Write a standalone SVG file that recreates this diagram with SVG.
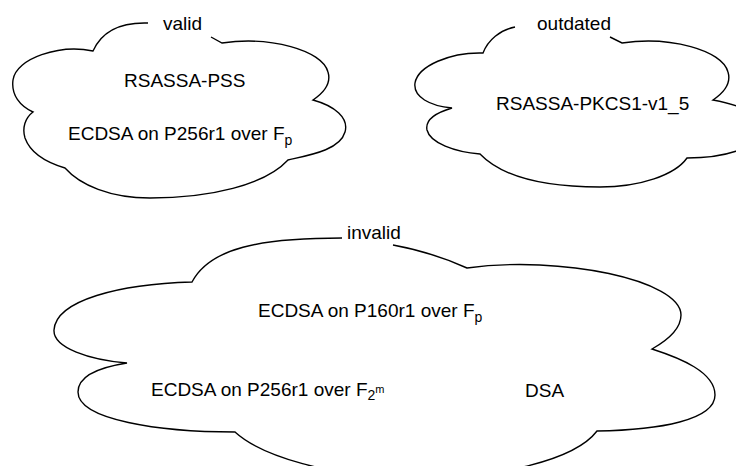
<svg xmlns="http://www.w3.org/2000/svg" width="736" height="466" viewBox="0 0 736 466">
  <style>
    .cloud { fill: none; stroke: #000; stroke-width: 1.4; stroke-linejoin: miter; }
    .lbl { font-family: "Liberation Sans", Arial, Helvetica, sans-serif; font-size: 19px; fill: #000; }
    .sub { font-size: 14px; }
    .sup { font-size: 11px; }
  </style>
  <rect width="736" height="466" fill="#fff"/>

  <!-- valid set -->
  <g id="valid">
    <path class="cloud" d="M148,23 C118,22 101,33 93,51
      C60,44 16,58 13,80 C11,95 20,106 33,112
      C25,118 22,128 25,138 C30,152 45,162 65,168
      C80,185 110,198 150,198 C210,198 265,185 288,160
      C310,155 340,150 345,132 C349,118 335,106 313,100
      C325,92 331,82 328,72 C322,50 270,36 222,43 L211,37"/>
    <text class="lbl" x="163" y="30">valid</text>
    <text class="lbl" x="124" y="87">RSASSA-PSS</text>
    <text class="lbl" x="68" y="140">ECDSA on P256r1 over F<tspan class="sub" dy="5">p</tspan></text>
  </g>

  <!-- outdated set -->
  <g id="outdated">
    <path class="cloud" d="M515,27 C500,30 488,40 483,53
      C450,52 418,66 415,83 C413,97 430,106 452,108
      C435,113 425,120 427,130 C430,143 455,152 480,154
      C505,180 555,187 600,187 C640,187 675,175 687,158
      C720,158 760,150 760,128 C760,112 735,104 713,100
      C725,92 731,82 728,72 C722,50 670,36 622,43 L610,37"/>
    <text class="lbl" x="537" y="30">outdated</text>
    <text class="lbl" x="496" y="110">RSASSA-PKCS1-v1_5</text>
  </g>

  <!-- invalid set -->
  <g id="invalid">
    <path class="cloud" d="M342,238 C260,238 210,248 192,282
      C120,284 56,300 54,330 C53,348 90,360 127,363
      C95,368 78,378 78,392 C78,420 160,432 235,432
      C260,455 330,478 415,478 C500,478 575,460 597,431
      C660,430 715,420 715,395 C715,372 680,358 652,349
      C668,340 681,328 681,315 C681,280 560,255 467,268
      C445,258 420,250 393,245"/>
    <text class="lbl" x="347" y="239">invalid</text>
    <text class="lbl" x="258" y="317">ECDSA on P160r1 over F<tspan class="sub" dy="5">p</tspan></text>
    <text class="lbl" x="151" y="396">ECDSA on P256r1 over F<tspan class="sub" dy="4">2</tspan><tspan class="sup" dy="-7">m</tspan></text>
    <text class="lbl" x="525" y="397">DSA</text>
  </g>
</svg>
